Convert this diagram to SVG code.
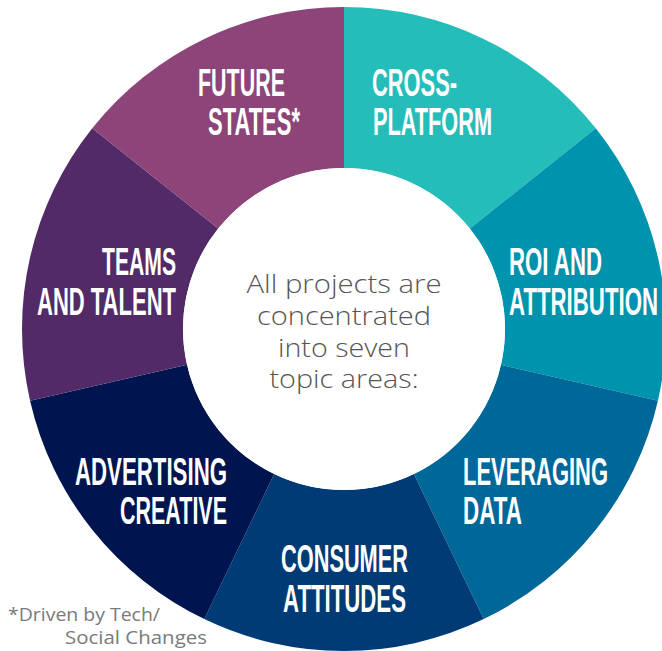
<svg xmlns="http://www.w3.org/2000/svg" width="662" height="651" viewBox="0 0 662 651">
<style>
.lbl{font-family:"Liberation Sans",Arial,sans-serif;font-weight:bold;font-size:39px;fill:#fff}
.ctr{font-family:"Open Sans","Noto Sans",sans-serif;font-weight:300;font-size:25px;fill:#555;text-anchor:middle}
.note{font-family:"Open Sans","Noto Sans",sans-serif;font-weight:400;font-size:18px;fill:#7a7a7a}
</style>
<rect width="662" height="651" fill="#fff"/>
<g id="connectors"></g>
<g id="cross-platform">
<path d="M344,7 A322,322 0 0 1 595.75,128.24 L469.87,228.62 A161,161 0 0 0 344,168 Z" fill="#25BDBA"/>
<text class="lbl" x="372" y="96" textLength="85" lengthAdjust="spacingAndGlyphs">CROSS-</text>
<text class="lbl" x="373" y="135" textLength="119" lengthAdjust="spacingAndGlyphs">PLATFORM</text>
</g>
<g id="roi-attribution">
<path d="M595.75,128.24 A322,322 0 0 1 657.93,400.65 L500.96,364.83 A161,161 0 0 0 469.87,228.62 Z" fill="#0093AD"/>
<text class="lbl" x="509" y="275" textLength="93" lengthAdjust="spacingAndGlyphs">ROI AND</text>
<text class="lbl" x="509" y="315" textLength="149" lengthAdjust="spacingAndGlyphs">ATTRIBUTION</text>
</g>
<g id="leveraging-data">
<path d="M657.93,400.65 A322,322 0 0 1 483.71,619.11 L413.85,474.06 A161,161 0 0 0 500.96,364.83 Z" fill="#006898"/>
<text class="lbl" x="463" y="485" textLength="145" lengthAdjust="spacingAndGlyphs">LEVERAGING</text>
<text class="lbl" x="463" y="524" textLength="59" lengthAdjust="spacingAndGlyphs">DATA</text>
</g>
<g id="consumer-attitudes">
<path d="M483.71,619.11 A322,322 0 0 1 204.29,619.11 L274.15,474.06 A161,161 0 0 0 413.85,474.06 Z" fill="#003B76"/>
<text class="lbl" x="281" y="572" textLength="127" lengthAdjust="spacingAndGlyphs">CONSUMER</text>
<text class="lbl" x="283" y="612" textLength="123" lengthAdjust="spacingAndGlyphs">ATTITUDES</text>
</g>
<g id="advertising-creative">
<path d="M204.29,619.11 A322,322 0 0 1 30.07,400.65 L187.04,364.83 A161,161 0 0 0 274.15,474.06 Z" fill="#00154F"/>
<text class="lbl" x="75" y="485" textLength="152" lengthAdjust="spacingAndGlyphs">ADVERTISING</text>
<text class="lbl" x="120" y="524" textLength="107" lengthAdjust="spacingAndGlyphs">CREATIVE</text>
</g>
<g id="teams-talent">
<path d="M30.07,400.65 A322,322 0 0 1 92.25,128.24 L218.13,228.62 A161,161 0 0 0 187.04,364.83 Z" fill="#522A67"/>
<text class="lbl" x="102" y="275" textLength="74" lengthAdjust="spacingAndGlyphs">TEAMS</text>
<text class="lbl" x="37" y="315" textLength="139" lengthAdjust="spacingAndGlyphs">AND TALENT</text>
</g>
<g id="future-states">
<path d="M92.25,128.24 A322,322 0 0 1 344,7 L344,168 A161,161 0 0 0 218.13,228.62 Z" fill="#8C4479"/>
<text class="lbl" x="198" y="96" textLength="87" lengthAdjust="spacingAndGlyphs">FUTURE</text>
<text class="lbl" x="208" y="135" textLength="92" lengthAdjust="spacingAndGlyphs">STATES*</text>
</g>
<g id="center">
<circle cx="344" cy="329" r="161" fill="#fff"/>
<text class="ctr" x="344" y="293" textLength="195" lengthAdjust="spacingAndGlyphs">All projects are</text>
<text class="ctr" x="344" y="325" textLength="174" lengthAdjust="spacingAndGlyphs">concentrated</text>
<text class="ctr" x="344" y="357" textLength="132" lengthAdjust="spacingAndGlyphs">into seven</text>
<text class="ctr" x="344" y="388" textLength="149" lengthAdjust="spacingAndGlyphs">topic areas:</text>
</g>
<g id="footnote">
<text class="note" x="8" y="621" textLength="152" lengthAdjust="spacingAndGlyphs">*Driven by Tech/</text>
<text class="note" x="65" y="644" textLength="142" lengthAdjust="spacingAndGlyphs">Social Changes</text>
</g>
</svg>
